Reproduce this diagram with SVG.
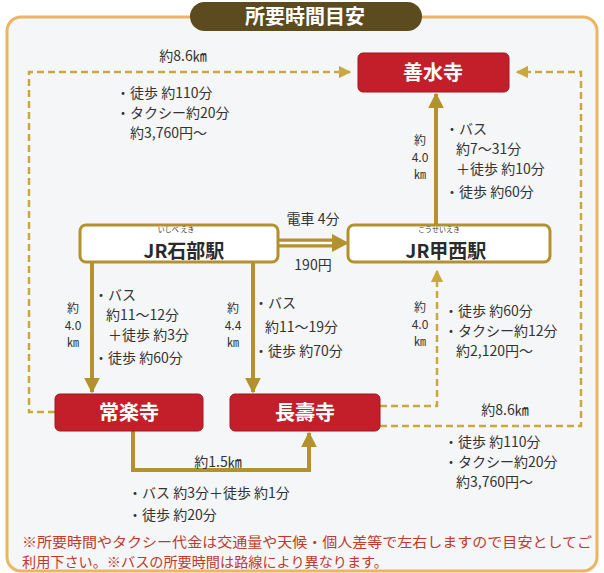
<svg xmlns="http://www.w3.org/2000/svg" width="604" height="573" viewBox="0 0 604 573">
<defs>
<marker id="ah" viewBox="0 0 10 10" refX="9" refY="5" markerWidth="4" markerHeight="4" orient="auto" markerUnits="strokeWidth"><path d="M0,0 L10,5 L0,10 Z" fill="#b3912c"/></marker>
<marker id="ahd" viewBox="0 0 10 10" refX="9" refY="5" markerWidth="5" markerHeight="5" orient="auto" markerUnits="strokeWidth"><path d="M0,0 L10,5 L0,10 Z" fill="#c9a83e"/></marker>
<style>
text{font-family:"Noto Sans CJK JP","Noto Sans",sans-serif;fill:#333}
.lb{font-size:14px}
.km{font-size:12px;text-anchor:middle}
.red rect{fill:#c21f2b;stroke:#9e1820;stroke-width:1}
.red text{fill:#fff;font-size:20px;font-weight:bold;text-anchor:middle}
.sta rect{fill:#fff;stroke:#b3912c;stroke-width:3}
.sta .nm{font-size:19px;font-weight:bold;text-anchor:middle;fill:#2a2a2a}
.sta .rb{font-size:7px;text-anchor:middle;fill:#333}
.solid{fill:none;stroke:#b3912c;stroke-width:4}
.dash{fill:none;stroke:#c9a83e;stroke-width:2.5;stroke-dasharray:7 4}
.note{font-size:13.5px;fill:#c0392b}
</style>
</defs>
<rect x="0" y="0" width="604" height="573" fill="#fff"/>
<rect x="7" y="17" width="590" height="554" rx="14" fill="#f4f6f8" stroke="#ecb563" stroke-width="3"/>
<g id="title">
<rect x="190" y="2" width="232" height="29" rx="14.5" fill="#5b4b1f"/>
<text x="305" y="24" style="font-size:20px;font-weight:bold;fill:#fff;text-anchor:middle">所要時間目安</text>
</g>
<g id="connectors">
<polyline class="dash" points="55,412 29,412 29,72 350,72" marker-end="url(#ahd)"/>
<polyline class="dash" points="380,426 581,426 581,72 517,72" marker-end="url(#ahd)"/>
<polyline class="dash" points="380,406 437,406 437,271" marker-end="url(#ahd)"/>
<line class="solid" x1="436" y1="225" x2="436" y2="94" marker-end="url(#ah)"/>
<line class="solid" x1="92" y1="262" x2="92" y2="392" marker-end="url(#ah)"/>
<line class="solid" x1="253" y1="262" x2="253" y2="392" marker-end="url(#ah)"/>
<polyline class="solid" points="133,431 133,470 309,470 309,433" marker-end="url(#ah)"/>
<line x1="278" y1="243" x2="334" y2="243" stroke="#b3912c" stroke-width="9"/>
<line x1="278" y1="243" x2="334" y2="243" stroke="#fff" stroke-width="2.5"/>
<path d="M332,234 L349,243 L332,252 Z" fill="#b3912c"/>
</g>
<g id="n-zensuiji" class="red"><rect x="358" y="53" width="151" height="39" rx="5"/><text x="433" y="80">善水寺</text></g>
<g id="n-ishibe" class="sta"><rect x="80" y="225" width="198" height="37" rx="6"/><text class="rb" x="176" y="232">いしべ えき</text><text class="nm" x="184" y="258">JR石部駅</text></g>
<g id="n-kosei" class="sta"><rect x="348" y="225" width="202" height="37" rx="6"/><text class="rb" x="439" y="232">こうせいえき</text><text class="nm" x="446" y="258">JR甲西駅</text></g>
<g id="n-jorakuji" class="red"><rect x="55" y="394" width="148" height="37" rx="5"/><text x="129" y="420">常楽寺</text></g>
<g id="n-chojuji" class="red"><rect x="230" y="394" width="150" height="37" rx="5"/><text x="305" y="420">長壽寺</text></g>
<g id="labels">
<text class="lb" x="183" y="61" text-anchor="middle">約8.6㎞</text>
<text class="lb" x="116" y="98">・徒歩 約110分</text>
<text class="lb" x="116" y="118">・タクシー約20分</text>
<text class="lb" x="130" y="138">約3,760円～</text>
<text class="km" x="420" y="145">約</text>
<text class="km" x="420" y="162">4.0</text>
<text class="km" x="420" y="179">㎞</text>
<text class="lb" x="445" y="134">・バス</text>
<text class="lb" x="456" y="154">約7～31分</text>
<text class="lb" x="456" y="174">＋徒歩 約10分</text>
<text class="lb" x="445" y="197">・徒歩 約60分</text>
<text class="lb" x="313" y="224" text-anchor="middle">電車 4分</text>
<text class="lb" x="313" y="270" text-anchor="middle">190円</text>
<text class="km" x="73" y="313">約</text>
<text class="km" x="73" y="330">4.0</text>
<text class="km" x="73" y="347">㎞</text>
<text class="lb" x="94" y="300">・バス</text>
<text class="lb" x="106" y="320">約11～12分</text>
<text class="lb" x="108" y="340">＋徒歩 約3分</text>
<text class="lb" x="94" y="363">・徒歩 約60分</text>
<text class="km" x="233" y="313">約</text>
<text class="km" x="233" y="330">4.4</text>
<text class="km" x="233" y="347">㎞</text>
<text class="lb" x="254" y="308">・バス</text>
<text class="lb" x="265" y="332">約11～19分</text>
<text class="lb" x="254" y="356">・徒歩 約70分</text>
<text class="km" x="420" y="312">約</text>
<text class="km" x="420" y="329">4.0</text>
<text class="km" x="420" y="346">㎞</text>
<text class="lb" x="444" y="316">・徒歩 約60分</text>
<text class="lb" x="444" y="336">・タクシー約12分</text>
<text class="lb" x="456" y="356">約2,120円～</text>
<text class="lb" x="505" y="415" text-anchor="middle">約8.6㎞</text>
<text class="lb" x="444" y="447">・徒歩 約110分</text>
<text class="lb" x="444" y="467">・タクシー約20分</text>
<text class="lb" x="456" y="487">約3,760円～</text>
<text class="lb" x="218" y="467" text-anchor="middle">約1.5㎞</text>
<text class="lb" x="128" y="498">・バス 約3分＋徒歩 約1分</text>
<text class="lb" x="128" y="520">・徒歩 約20分</text>
<text class="note" x="22" y="547" textLength="570" lengthAdjust="spacingAndGlyphs">※所要時間やタクシー代金は交通量や天候・個人差等で左右しますので目安としてご</text>
<text class="note" x="22" y="567" textLength="366" lengthAdjust="spacingAndGlyphs">利用下さい。※バスの所要時間は路線により異なります。</text>
</g>
</svg>
